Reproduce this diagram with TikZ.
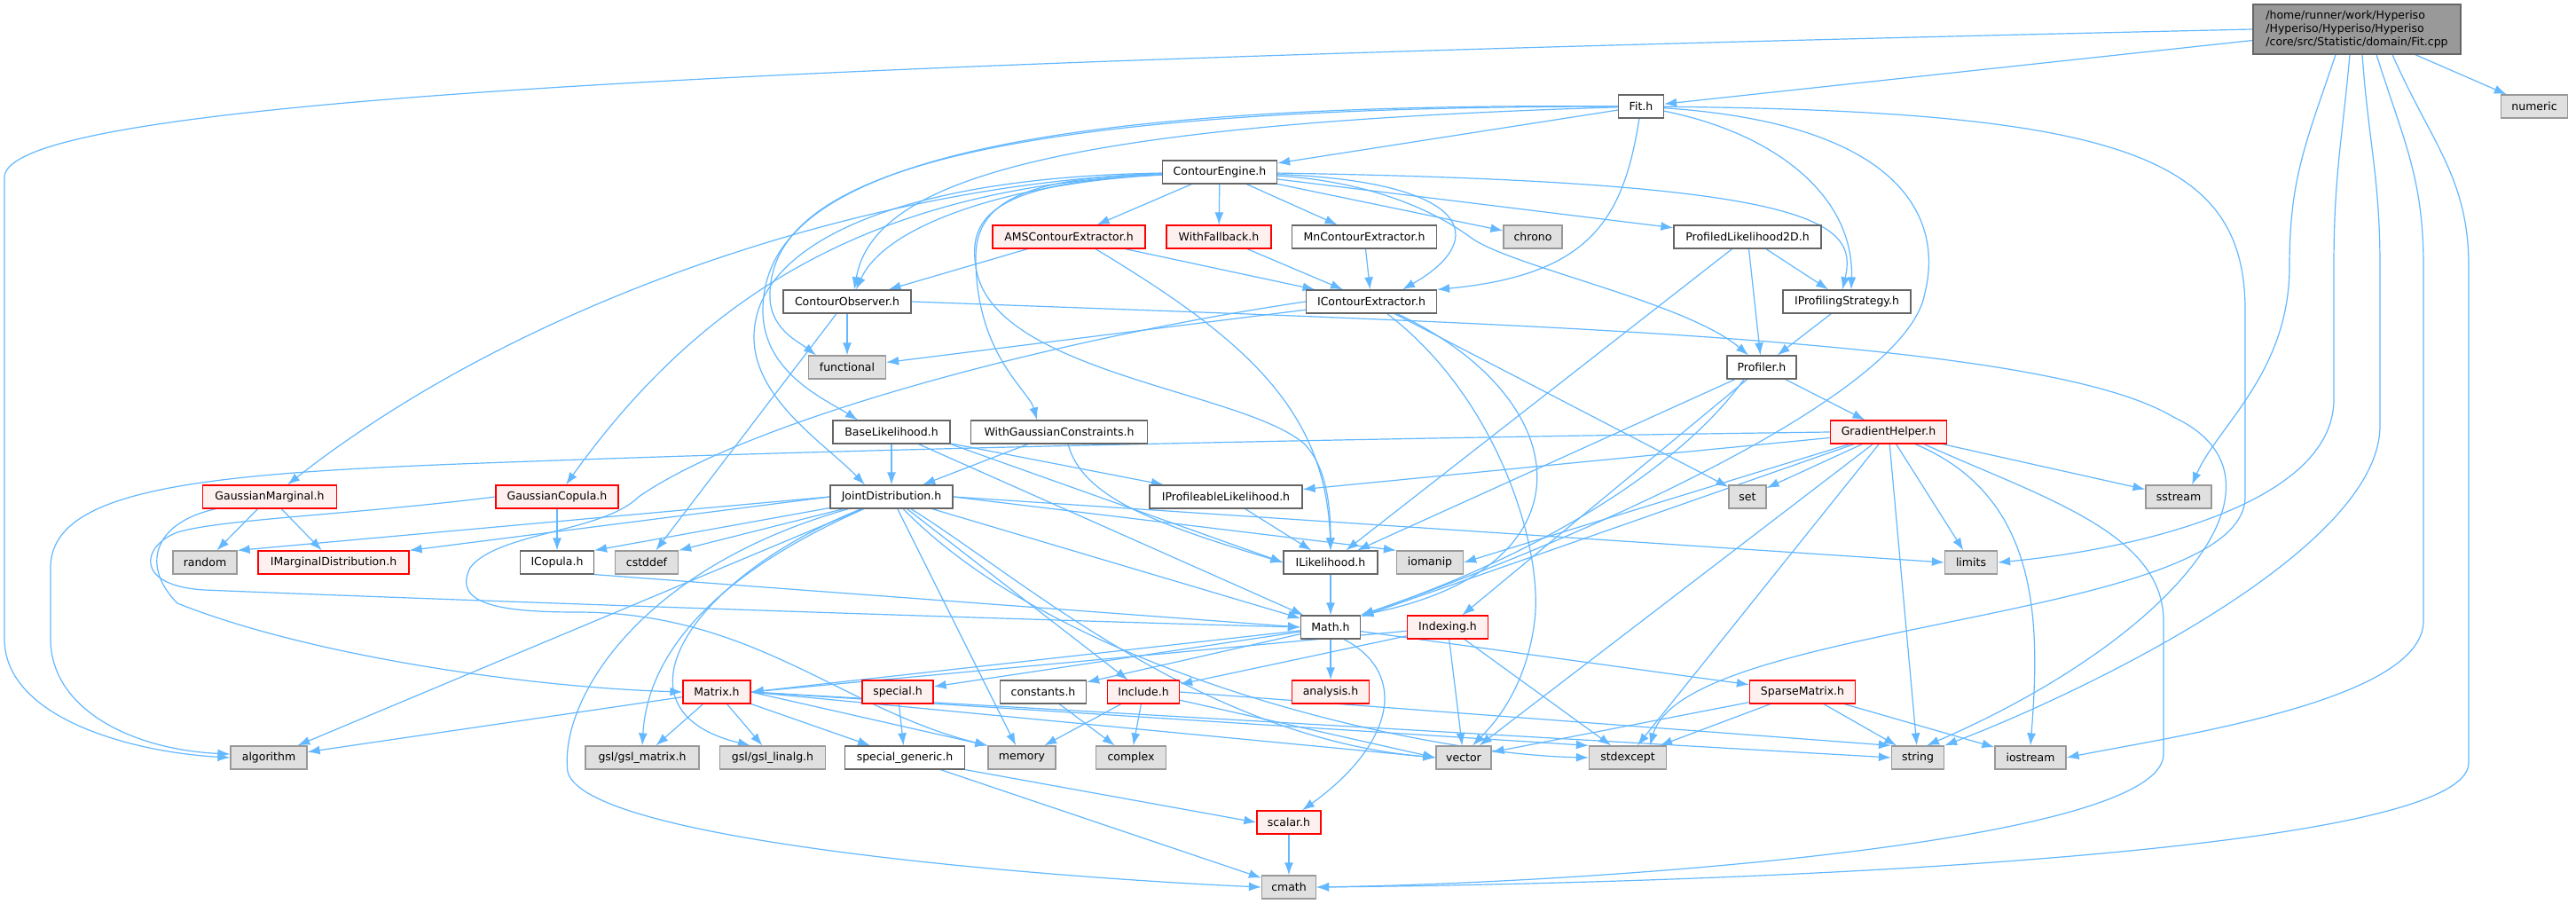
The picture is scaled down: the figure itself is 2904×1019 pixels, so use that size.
\documentclass[tikz,border=0pt]{standalone}
\usepackage{fontspec}
\setmainfont{DejaVu Sans}
\usetikzlibrary{arrows.meta,backgrounds}
\tikzset{>={Latex[length=14pt,width=10pt]}}

\definecolor{edgeblue}{HTML}{63B8FF}
\definecolor{boxline}{HTML}{666666}
\definecolor{sysline}{HTML}{999999}
\definecolor{sysfill}{HTML}{E0E0E0}
\definecolor{truncfill}{HTML}{FFF0F0}
\definecolor{rootfill}{HTML}{999999}

\tikzset{
  incbox/.style={rectangle, minimum height=26pt, inner sep=0pt, line width=1.2pt,
    font=\fontsize{12.5}{15}\selectfont},
  hdr/.style={incbox, draw=boxline, fill=white, minimum width=#1pt},
  sysinc/.style={incbox, draw=sysline, fill=sysfill, minimum width=#1pt},
  trunc/.style={incbox, draw=red, fill=truncfill, minimum width=#1pt},
  rootfile/.style={incbox, draw=boxline, fill=rootfill, minimum width=#1pt,
    minimum height=56pt, align=left},
  dep/.style={->, draw=edgeblue, line width=1.2pt},
}

\begin{document}
\begin{tikzpicture}[x=1pt,y=-1pt]
  \useasboundingbox (0,0) rectangle (2904,1019);

  % Root file
  \node[rootfile=234] (fitcpp) at (2657,33)
    {/home/runner/work/Hyperiso\\/Hyperiso/Hyperiso/Hyperiso\\/core/src/Statistic/domain/Fit.cpp};

  % Headers
  \node[hdr=51]     (fith)       at (1850,120) {Fit.h};
  \node[hdr=129]    (engine)     at (1375,194) {ContourEngine.h};
  \node[trunc=172]  (ams)        at (1205,267) {AMSContourExtractor.h};
  \node[trunc=118]  (fallback)   at (1374,267) {WithFallback.h};
  \node[hdr=163]    (mnextr)     at (1538,267) {MnContourExtractor.h};
  \node[hdr=166]    (prof2d)     at (1970,267) {ProfiledLikelihood2D.h};
  \node[hdr=144]    (observer)   at (955,340)  {ContourObserver.h};
  \node[hdr=147]    (icextr)     at (1546,340) {IContourExtractor.h};
  \node[hdr=144]    (iprofstrat) at (2082,340) {IProfilingStrategy.h};
  \node[hdr=78]     (profiler)   at (1986,414) {Profiler.h};
  \node[hdr=132]    (baselik)    at (1005,487) {BaseLikelihood.h};
  \node[hdr=199]    (withgauss)  at (1194,487) {WithGaussianConstraints.h};
  \node[trunc=131]  (gradhelp)   at (2129,487) {GradientHelper.h};
  \node[trunc=151]  (gmarg)      at (304,560)  {GaussianMarginal.h};
  \node[trunc=138]  (gcop)       at (628,560)  {GaussianCopula.h};
  \node[hdr=138]    (joint)      at (1005,560) {JointDistribution.h};
  \node[hdr=172]    (iproflik)   at (1382,560) {IProfileableLikelihood.h};
  \node[trunc=170]  (imarg)      at (376,634)  {IMarginalDistribution.h};
  \node[hdr=83]     (icop)       at (628,634)  {ICopula.h};
  \node[hdr=106]    (ilik)       at (1500,634) {ILikelihood.h};
  \node[hdr=67]     (math)       at (1500,707) {Math.h};
  \node[trunc=91]   (indexing)   at (1632,707) {Indexing.h};
  \node[trunc=76]   (matrix)     at (808,780)  {Matrix.h};
  \node[trunc=80]   (special)    at (1012,780) {special.h};
  \node[hdr=97]     (constants)  at (1176,780) {constants.h};
  \node[trunc=81]   (include)    at (1289,780) {Include.h};
  \node[trunc=87]   (analysis)   at (1500,780) {analysis.h};
  \node[trunc=119]  (sparse)     at (2032,780) {SparseMatrix.h};
  \node[hdr=135]    (specgen)    at (1020,854) {special\_generic.h};
  \node[trunc=72]   (scalar)     at (1453,927) {scalar.h};

  % System headers
  \node[sysinc=75]  (numeric)    at (2857,120) {numeric};
  \node[sysinc=66]  (chrono)     at (1728,267) {chrono};
  \node[sysinc=87]  (functional) at (955,414)  {functional};
  \node[sysinc=42]  (cset)       at (1970,560) {set};
  \node[sysinc=74]  (sstream)    at (2456,560) {sstream};
  \node[sysinc=72]  (random)     at (231,634)  {random};
  \node[sysinc=71]  (cstddef)    at (729,634)  {cstddef};
  \node[sysinc=75]  (iomanip)    at (1612,634) {iomanip};
  \node[sysinc=59]  (limits)     at (2222,634) {limits};
  \node[sysinc=86]  (algorithm)  at (303,854)  {algorithm};
  \node[sysinc=128] (gslmat)     at (724,854)  {gsl/gsl\_matrix.h};
  \node[sysinc=119] (gsllin)     at (871,854)  {gsl/gsl\_linalg.h};
  \node[sysinc=76]  (memory)     at (1152,854) {memory};
  \node[sysinc=79]  (complex)    at (1275,854) {complex};
  \node[sysinc=62]  (vector)     at (1650,854) {vector};
  \node[sysinc=87]  (stdexcept)  at (1835,854) {stdexcept};
  \node[sysinc=59]  (string)     at (2162,854) {string};
  \node[sysinc=80]  (iostream)   at (2289,854) {iostream};
  \node[sysinc=61]  (cmath)      at (1453,1000) {cmath};

  \begin{pgfonlayer}{background}
    \fill[white] (0,0) rectangle (2904,1019);

    % Fit.cpp
    \draw[dep] (fitcpp) -- (fith);
    \draw[dep] (fitcpp) -- (numeric);
    \draw[dep] (fitcpp.west) .. controls (900,70) and (5,110) .. (5,200) -- (5,720)
      .. controls (5,810) and (150,848) .. (algorithm.west);
    \draw[dep] ([xshift=-24pt]fitcpp.south) .. controls (2600,160) and (2581,200) .. (2581,300)
      .. controls (2581,420) and (2500,480) .. ([xshift=15pt]sstream.north);
    \draw[dep] ([xshift=-8pt]fitcpp.south) .. controls (2640,160) and (2631,200) .. (2631,300) -- (2631,450)
      .. controls (2631,570) and (2400,620) .. (limits.east);
    \draw[dep] ([xshift=6pt]fitcpp.south) .. controls (2670,160) and (2683,200) .. (2683,300) -- (2683,480)
      .. controls (2683,620) and (2350,780) .. (string.north east);
    \draw[dep] ([xshift=22pt]fitcpp.south) .. controls (2710,160) and (2732,200) .. (2732,300) -- (2732,700)
      .. controls (2732,790) and (2450,830) .. (iostream.east);
    \draw[dep] ([xshift=40pt]fitcpp.south) .. controls (2740,160) and (2783,200) .. (2783,300) -- (2783,860)
      .. controls (2783,960) and (2000,995) .. (cmath.east);

    % Fit.h
    \draw[dep] (fith) -- (engine);
    \draw[dep] (fith) .. controls (1200,140) and (985,200) .. ([xshift=8pt]observer.north);
    \draw[dep] (fith) .. controls (1100,120) and (872,200) .. (868,330)
      .. controls (866,370) and (900,385) .. ([xshift=-35pt]functional.north);
    \draw[dep] (fith) .. controls (1100,115) and (860,200) .. (860,350)
      .. controls (860,420) and (930,450) .. ([xshift=-38pt]baselik.north);
    \draw[dep] (fith) .. controls (1830,250) and (1790,310) .. (icextr.north east);
    \draw[dep] (fith) .. controls (2000,150) and (2090,220) .. ([xshift=5pt]iprofstrat.north);
    \draw[dep] (fith) .. controls (2150,140) and (2190,250) .. (2170,330)
      .. controls (2150,450) and (1750,620) .. (math.north east);
    \draw[dep] (fith) .. controls (2400,125) and (2531,180) .. (2531,350) -- (2531,560)
      .. controls (2531,700) and (1900,700) .. ([xshift=25pt]stdexcept.north);

    % ContourEngine.h
    \draw[dep] (engine) -- (ams);
    \draw[dep] (engine) -- (fallback);
    \draw[dep] (engine) -- (mnextr);
    \draw[dep] (engine) -- (chrono);
    \draw[dep] (engine) -- (prof2d);
    \draw[dep] (engine) .. controls (1660,205) and (1680,270) .. ([xshift=35pt]icextr.north);
    \draw[dep] (engine) .. controls (2050,205) and (2095,250) .. ([xshift=-5pt]iprofstrat.north);
    \draw[dep] (engine) .. controls (1550,205) and (1620,240) .. (1657,267)
      .. controls (1700,300) and (1900,340) .. ([xshift=-15pt]profiler.north);
    \draw[dep] (engine) .. controls (1150,205) and (1000,250) .. ([xshift=10pt]observer.north);
    \draw[dep] (engine) .. controls (1000,205) and (600,330) .. ([xshift=20pt]gmarg.north);
    \draw[dep] (engine) .. controls (1000,210) and (800,320) .. ([xshift=10pt]gcop.north);
    \draw[dep] (engine) .. controls (1000,200) and (850,280) .. (850,380)
      .. controls (850,450) and (930,500) .. ([xshift=-30pt]joint.north);
    \draw[dep] (engine) .. controls (1150,200) and (1100,230) .. (1100,290)
      .. controls (1100,400) and (1160,440) .. ([xshift=-25pt]withgauss.north);
    \draw[dep] (engine) .. controls (1130,205) and (1090,240) .. (1100,300)
      .. controls (1115,420) and (1400,440) .. (1470,500)
      .. controls (1495,525) and (1500,570) .. (ilik.north);

    % Contour extractors
    \draw[dep] (ams) -- (observer);
    \draw[dep] (ams) -- (icextr);
    \draw[dep] ([xshift=30pt]ams.south) .. controls (1400,380) and (1495,460) .. (ilik.north);
    \draw[dep] (fallback) -- (icextr);
    \draw[dep] (mnextr) -- (icextr);
    \draw[dep] (prof2d) -- (iprofstrat);
    \draw[dep] (prof2d) -- (profiler);
    \draw[dep] (prof2d) -- (ilik);

    % ContourObserver.h
    \draw[dep] (observer) -- (functional);
    \draw[dep] ([xshift=-12pt]observer.south) -- (cstddef);
    \draw[dep] (observer.east) .. controls (1700,365) and (2300,380) .. (2450,470)
      .. controls (2600,540) and (2450,720) .. ([xshift=10pt]string.north);

    % IContourExtractor.h
    \draw[dep] (icextr) -- (functional);
    \draw[dep] (icextr) -- (cset);
    \draw[dep] (icextr) .. controls (1780,450) and (1800,640) .. (math.north east);
    \draw[dep] (icextr) .. controls (1690,450) and (1740,620) .. (1730,700)
      .. controls (1720,780) and (1680,820) .. ([xshift=10pt]vector.north);
    \draw[dep] (icextr.west) .. controls (1200,380) and (850,470) .. (720,560)
      .. controls (680,600) and (560,600) .. (530,640)
      .. controls (510,680) and (560,690) .. (650,690)
      .. controls (850,690) and (950,800) .. (memory.north west);

    % Profiling
    \draw[dep] (iprofstrat) -- (profiler);
    \draw[dep] (profiler) -- (gradhelp);
    \draw[dep] (profiler) -- (ilik);
    \draw[dep] (profiler) -- (indexing);
    \draw[dep] ([xshift=-20pt]profiler.south) .. controls (1900,520) and (1750,620) .. (math.north east);

    % GradientHelper.h
    \draw[dep] (gradhelp) -- (iproflik);
    \draw[dep] (gradhelp) -- (cset);
    \draw[dep] (gradhelp) -- (sstream);
    \draw[dep] (gradhelp) -- (limits);
    \draw[dep] (gradhelp) -- (iomanip.east);
    \draw[dep] (gradhelp) -- (math);
    \draw[dep] (gradhelp) -- (vector);
    \draw[dep] (gradhelp) -- (stdexcept);
    \draw[dep] (gradhelp) -- (string);
    \draw[dep] ([xshift=30pt]gradhelp.south) .. controls (2300,560) and (2300,700) .. (iostream.north);
    \draw[dep] (gradhelp.west) .. controls (1600,493) and (1000,505) .. (600,520)
      .. controls (250,532) and (57,545) .. (57,640) -- (57,720)
      .. controls (57,800) and (150,845) .. ([yshift=4pt]algorithm.west);
    \draw[dep] ([xshift=40pt]gradhelp.south) .. controls (2300,560) and (2439,600) .. (2439,700) -- (2439,850)
      .. controls (2439,950) and (1800,995) .. (cmath.east);

    % Likelihoods
    \draw[dep] (baselik) -- (joint);
    \draw[dep] (baselik) -- (iproflik);
    \draw[dep] (baselik.south east) -- (ilik.west);
    \draw[dep] (baselik) -- (math);
    \draw[dep] (withgauss) -- (joint);
    \draw[dep] ([xshift=10pt]withgauss.south) .. controls (1220,560) and (1300,590) .. (ilik.west);
    \draw[dep] (iproflik) -- (ilik);
    \draw[dep] (ilik) -- (math);

    % Distributions
    \draw[dep] (gmarg) -- (random);
    \draw[dep] (gmarg) -- (imarg);
    \draw[dep] (gmarg) .. controls (170,590) and (160,640) .. (200,680)
      .. controls (350,740) and (600,775) .. (matrix.west);
    \draw[dep] (gcop) -- (icop);
    \draw[dep] (gcop.west) .. controls (400,580) and (250,585) .. (200,600)
      .. controls (160,615) and (150,660) .. (230,665)
      .. controls (600,680) and (1200,700) .. (math.west);
    \draw[dep] (icop.south east) -- (math.west);

    % JointDistribution.h
    \draw[dep] (joint.west) -- (random.north east);
    \draw[dep] (joint.west) -- (imarg.north east);
    \draw[dep] (joint) -- (icop.north east);
    \draw[dep] (joint) -- (cstddef.north east);
    \draw[dep] (joint.east) -- (iomanip.north west);
    \draw[dep] (joint.east) -- (limits.west);
    \draw[dep] (joint) -- (math);
    \draw[dep] (joint) -- (algorithm);
    \draw[dep] (joint) .. controls (800,650) and (730,740) .. (gslmat.north);
    \draw[dep] (joint) .. controls (780,650) and (680,800) .. ([xshift=-25pt]gsllin.north);
    \draw[dep] (joint) -- (memory);
    \draw[dep] (joint) -- (include);
    \draw[dep] (joint) .. controls (1150,650) and (1350,830) .. (vector.west);
    \draw[dep] (joint) .. controls (1200,760) and (1600,850) .. (stdexcept.west);
    \draw[dep] (joint) .. controls (720,640) and (630,790) .. (640,870)
      .. controls (660,950) and (1200,990) .. (cmath.west);

    % Math.h and Indexing.h
    \draw[dep] (math) -- (matrix.east);
    \draw[dep] (math) -- (special);
    \draw[dep] (math) -- (constants);
    \draw[dep] (math) -- (analysis);
    \draw[dep] (math) -- (sparse);
    \draw[dep] ([xshift=15pt]math.south) .. controls (1590,760) and (1570,840) .. ([xshift=15pt]scalar.north);
    \draw[dep] (indexing) -- (include);
    \draw[dep] (indexing) -- (matrix.east);
    \draw[dep] (indexing) -- (vector);
    \draw[dep] (indexing) -- (stdexcept);

    % Matrix.h
    \draw[dep] (matrix) -- (algorithm);
    \draw[dep] (matrix) -- (gslmat);
    \draw[dep] (matrix) -- (gsllin);
    \draw[dep] (matrix) -- (specgen);
    \draw[dep] (matrix.east) -- (memory.north west);
    \draw[dep] (matrix.east) -- (vector.west);
    \draw[dep] (matrix.east) -- (stdexcept.north west);
    \draw[dep] (matrix.east) -- (string.west);

    % Lower level headers
    \draw[dep] (special) -- (specgen);
    \draw[dep] (constants) -- (complex);
    \draw[dep] (include) -- (memory);
    \draw[dep] (include) -- (complex);
    \draw[dep] (include) -- (vector.west);
    \draw[dep] (include.east) -- (string.north west);
    \draw[dep] (sparse) -- (vector);
    \draw[dep] (sparse) -- (stdexcept);
    \draw[dep] (sparse) -- (string);
    \draw[dep] (sparse) -- (iostream);
    \draw[dep] (specgen.south east) -- (scalar.west);
    \draw[dep] (specgen) -- (cmath);
    \draw[dep] (scalar) -- (cmath);
  \end{pgfonlayer}
\end{tikzpicture}
\end{document}
